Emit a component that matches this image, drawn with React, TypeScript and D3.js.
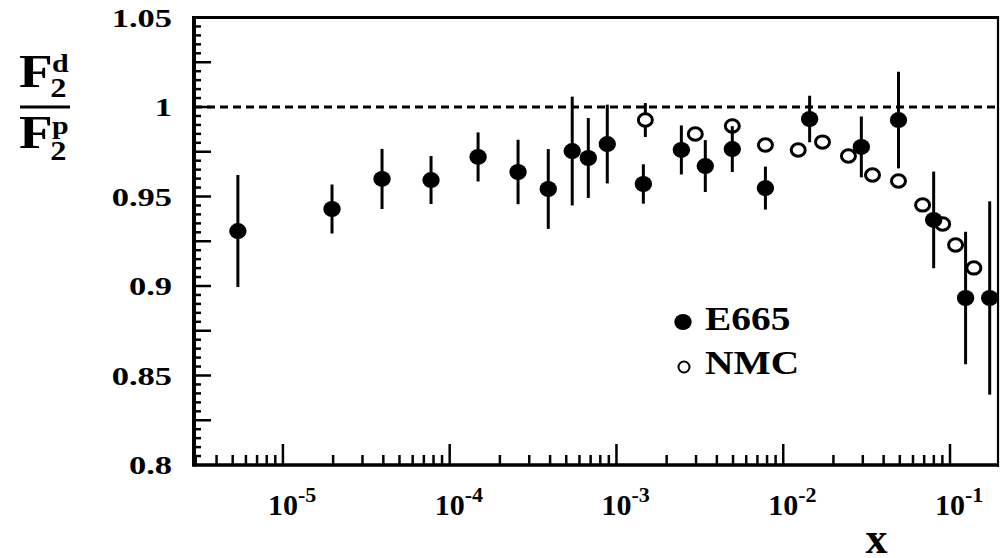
import React from "react";
import * as d3 from "d3";

// E665 measurements (filled markers)
const e665X = [5.37e-6, 1.97e-5, 3.93e-5, 7.73e-5, 1.48e-4, 2.57e-4, 3.9e-4, 5.43e-4, 6.78e-4, 8.81e-4, 1.45e-3, 2.45e-3, 3.41e-3, 4.95e-3, 7.82e-3, 1.44e-2, 2.94e-2, 4.91e-2, 7.98e-2, 0.124, 0.173];
const e665Y = [0.9307, 0.943, 0.9598, 0.9592, 0.9721, 0.9637, 0.9542, 0.9754, 0.9715, 0.9793, 0.957, 0.976, 0.967, 0.9765, 0.9547, 0.9933, 0.9777, 0.9927, 0.9369, 0.8933, 0.8933];
const e665Err = [0.0313, 0.0137, 0.0168, 0.0134, 0.0137, 0.018, 0.0223, 0.0304, 0.0223, 0.022, 0.011, 0.0137, 0.0145, 0.0128, 0.012, 0.013, 0.017, 0.027, 0.027, 0.037, 0.054];

// NMC measurements (open markers)
const nmcX = [1.49e-3, 2.97e-3, 4.95e-3, 7.82e-3, 1.23e-2, 1.72e-2, 2.46e-2, 3.43e-2, 4.91e-2, 6.85e-2, 9.04e-2, 0.108, 0.139];
const nmcY = [0.9927, 0.9849, 0.9894, 0.9788, 0.976, 0.9804, 0.9726, 0.962, 0.9587, 0.9453, 0.9346, 0.9229, 0.9101];
const nmcErr = [0.0095, 0.003, 0.004, 0.003, 0.003, 0.003, 0.003, 0.003, 0.003, 0.003, 0.003, 0.003, 0.003];

// Axis tick labels
const yLabelValues = [0.8, 0.85, 0.9, 0.95, 1, 1.05];
const yLabelTexts = ["0.8", "0.85", "0.9", "0.95", "1", "1.05"];
const xDecadeExponents = [-5, -4, -3, -2, -1];
const xDecadeTexts = ["-5", "-4", "-3", "-2", "-1"];

const FONT = "Liberation Serif";

export default function App() {
  const left = 194, right = 998, top = 17.5, bottom = 465;
  const x = d3.scaleLog().domain([2.93e-6, 0.194]).range([left, right]);
  const y = d3.scaleLinear().domain([0.8, 1.05]).range([bottom, top]);

  // minor y ticks every 0.005, longer every 0.025
  const yTicks = d3.range(1, 50).map((i) => ({ v: 0.8 + i * 0.005, long: i % 5 === 0 }));
  // x ticks: decades long, 2..9 multiples short
  const xTicks: { v: number; long: boolean }[] = [];
  for (let e = -6; e <= -1; e++) {
    for (let m = 1; m <= 9; m++) {
      const v = m * Math.pow(10, e);
      if (v > 2.95e-6 && v < 0.194) xTicks.push({ v, long: m === 1 });
    }
  }

  const txt = { fontFamily: FONT, fontWeight: 700 as const };

  return (
    <svg
      width={1007}
      height={558}
      style={{ position: "absolute", left: 0, top: 0, background: "#fff" }}
    >
      <rect x={0} y={0} width={1007} height={558} fill="#fff" />

      {/* y-axis ticks */}
      {yTicks.map((t, i) => (
        <line key={"yt" + i} x1={left} x2={left + (t.long ? 17 : 7)} y1={y(t.v)} y2={y(t.v)} stroke="#000" strokeWidth={2.5} />
      ))}
      {/* x-axis ticks */}
      {xTicks.map((t, i) => (
        <line key={"xt" + i} x1={x(t.v)} x2={x(t.v)} y1={bottom} y2={bottom - (t.long ? 21 : 10)} stroke="#000" strokeWidth={2.5} />
      ))}

      {/* frame */}
      <line x1={left} x2={right} y1={top} y2={top} stroke="#000" strokeWidth={3} />
      <line x1={left} x2={right + 1} y1={bottom} y2={bottom} stroke="#000" strokeWidth={3.5} />
      <line x1={left} x2={left} y1={top - 1.5} y2={bottom + 1.75} stroke="#000" strokeWidth={4} />
      <line x1={right} x2={right} y1={top - 1.5} y2={bottom + 1.75} stroke="#000" strokeWidth={2.2} />

      {/* reference line at ratio 1 */}
      <line x1={left} x2={right} y1={y(1)} y2={y(1)} stroke="#000" strokeWidth={3} strokeDasharray="8,5" />

      {/* y tick labels */}
      {yLabelValues.map((v, i) => (
        <text key={"yl" + i} style={txt} transform={`translate(172,${y(v) + 9}) scale(1.38,1)`} textAnchor="end" fontSize={25}>
          {yLabelTexts[i]}
        </text>
      ))}

      {/* x tick labels */}
      {xDecadeExponents.map((e, i) => {
        const px = x(Math.pow(10, e));
        return (
          <g key={"xl" + i}>
            <text style={txt} x={px} y={515} textAnchor="middle" fontSize={30}>10</text>
            <text style={txt} x={px + 15} y={502} fontSize={22}>{xDecadeTexts[i]}</text>
          </g>
        );
      })}

      {/* x title */}
      <text style={txt} x={876.5} y={553} textAnchor="middle" fontSize={44}>x</text>

      {/* y title: F2d / F2p */}
      <g transform="translate(19,87) scale(1.2,1)">
        <text style={txt} x={0} y={0} fontSize={46}>F</text>
        <text style={txt} x={27.5} y={-15} fontSize={25}>d</text>
        <text style={txt} x={26} y={10} fontSize={27}>2</text>
      </g>
      <line x1={20} x2={70} y1={107} y2={107} stroke="#000" strokeWidth={3} />
      <g transform="translate(19,148) scale(1.2,1)">
        <text style={txt} x={0} y={0} fontSize={46}>F</text>
        <text style={txt} x={27.5} y={-14} fontSize={25}>p</text>
        <text style={txt} x={26} y={12} fontSize={27}>2</text>
      </g>

      {/* NMC error bars and markers */}
      {nmcX.map((v, i) => (
        <line key={"ne" + i} x1={x(v)} x2={x(v)} y1={y(nmcY[i] + nmcErr[i])} y2={y(nmcY[i] - nmcErr[i])} stroke="#000" strokeWidth={3} />
      ))}
      {nmcX.map((v, i) => (
        <ellipse key={"nm" + i} cx={x(v)} cy={y(nmcY[i])} rx={7} ry={6.2} fill="#fff" stroke="#000" strokeWidth={3} />
      ))}

      {/* E665 error bars and markers */}
      {e665X.map((v, i) => (
        <line key={"ee" + i} x1={x(v)} x2={x(v)} y1={y(e665Y[i] + e665Err[i])} y2={y(e665Y[i] - e665Err[i])} stroke="#000" strokeWidth={3} />
      ))}
      {e665X.map((v, i) => (
        <ellipse key={"em" + i} cx={x(v)} cy={y(e665Y[i])} rx={8.7} ry={8} fill="#000" />
      ))}

      {/* legend */}
      <ellipse cx={683} cy={322} rx={8.7} ry={8} fill="#000" />
      <text style={txt} transform="translate(705,330) scale(1.16,1)" fontSize={34}>E665</text>
      <circle cx={684} cy={367} r={5.5} fill="#fff" stroke="#000" strokeWidth={2} />
      <text style={txt} transform="translate(705,374) scale(1.16,1)" fontSize={34}>NMC</text>
    </svg>
  );
}
